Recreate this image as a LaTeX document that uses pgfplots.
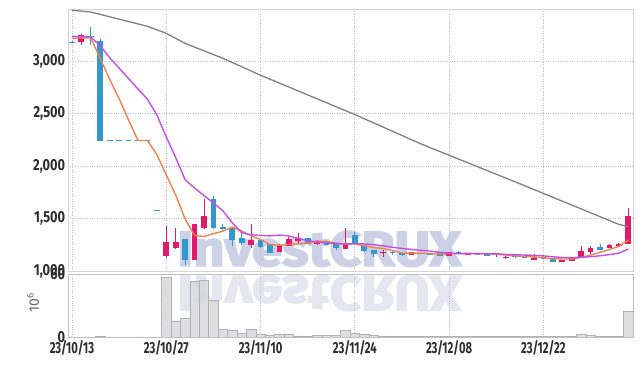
\documentclass[border=0pt]{standalone}
\usepackage{pgfplots}
\pgfplotsset{compat=1.18}
\usepackage{fontspec}
\usepackage{graphicx}
\setmainfont{Fira Sans}
\newfontfamily\wmfont{Fira Sans}[BoldFeatures={FakeBold=3}]
\definecolor{cup}{RGB}{226,26,104}
\definecolor{cdn}{RGB}{51,152,204}
\definecolor{maf}{RGB}{240,130,80}
\definecolor{mam}{RGB}{192,80,230}
\definecolor{mas}{RGB}{128,128,128}
\definecolor{gridc}{RGB}{188,192,218}
\definecolor{axc}{RGB}{210,210,216}
\definecolor{volf}{RGB}{216,216,218}
\definecolor{vold}{RGB}{178,178,182}
\definecolor{wm}{RGB}{204,209,230}
\definecolor{wmr}{RGB}{228,230,240}
\definecolor{tickc}{RGB}{45,45,45}
% \up / \dn {index}{open}{high}{low}{close}
\newcommand{\cndl}[6]{%
  \addplot[#1, line width=0.9pt, forget plot] coordinates {(#2,#5)(#2,#4)};
  \addplot[#1, line width=5.8pt, forget plot] coordinates {(#2,#3)(#2,#6)};}
\newcommand{\up}[5]{\cndl{cup}{#1}{#2}{#3}{#4}{#5}}
\newcommand{\dn}[5]{\cndl{cdn}{#1}{#2}{#3}{#4}{#5}}
\pgfplotsset{
  tly/.style={font=\bfseries\fontsize{16}{16}\selectfont, text=tickc, xscale=0.8},
  tlx/.style={font=\bfseries\fontsize{16}{16}\selectfont, text=tickc, xscale=0.7},
}
\begin{document}
\begin{tikzpicture}
\path[use as bounding box] (0pt,0pt) rectangle (642pt,366pt);
\node[anchor=south west, inner sep=0pt, text=wm] at (177pt,99pt) {\resizebox{284pt}{35pt}{\wmfont\bfseries InvestCRUX}};
\node[anchor=north west, inner sep=0pt, text=wmr] at (177pt,91pt) {\scalebox{1}[-1]{\resizebox{284pt}{35pt}{\wmfont\bfseries InvestCRUX}}};
\node[rotate=90, text=black!60, font=\fontsize{14}{14}\selectfont] at (33pt,63pt) {10\textsuperscript{6}};
\begin{axis}[at={(68pt,95pt)}, anchor=south west, scale only axis, width=565pt, height=262pt,
  xmin=-0.42, xmax=59.5, ymin=1000, ymax=3500,
  xtick={0,10,20,30,40,50}, xticklabels={}, ytick={1000,1500,2000,2500,3000},
  grid=major, grid style={gridc, dotted, line width=0.7pt},
  axis line style={axc}, major tick length=0pt,
  yticklabel style={tly},
  /pgf/number format/1000 sep={,}, /pgf/number format/assume math mode=true]
\dn{0}{3186}{3192}{3176}{3180}
\up{1}{3182}{3258}{3153}{3249}
\dn{2}{3239}{3325}{3153}{3229}
\dn{3}{3191}{3210}{2245}{2245}
\dn{4}{2248}{2248}{2242}{2242}
\dn{5}{2248}{2248}{2242}{2242}
\dn{6}{2248}{2248}{2242}{2242}
\dn{7}{2248}{2248}{2242}{2242}
\dn{8}{2248}{2248}{2242}{2242}
\dn{9}{1579}{1579}{1573}{1573}
\up{10}{1145}{1432}{1126}{1279}
\up{11}{1222}{1413}{1212}{1279}
\dn{12}{1308}{1308}{1059}{1107}
\up{13}{1107}{1451}{1107}{1451}
\up{14}{1413}{1690}{1403}{1528}
\dn{15}{1690}{1719}{1403}{1413}
\dn{16}{1423}{1451}{1394}{1403}
\dn{17}{1413}{1423}{1241}{1298}
\dn{18}{1317}{1365}{1251}{1270}
\up{19}{1251}{1451}{1222}{1298}
\dn{20}{1298}{1298}{1222}{1232}
\dn{21}{1260}{1260}{1174}{1174}
\up{22}{1184}{1260}{1184}{1251}
\up{23}{1241}{1327}{1241}{1308}
\up{24}{1289}{1365}{1270}{1317}
\dn{25}{1317}{1317}{1260}{1260}
\up{26}{1260}{1298}{1251}{1279}
\dn{27}{1279}{1279}{1251}{1251}
\dn{28}{1260}{1260}{1203}{1222}
\up{29}{1212}{1413}{1212}{1270}
\dn{30}{1346}{1375}{1270}{1270}
\dn{31}{1241}{1241}{1184}{1193}
\dn{32}{1203}{1203}{1136}{1164}
\up{33}{1170}{1203}{1136}{1179}
\dn{34}{1179}{1193}{1155}{1170}
\dn{35}{1174}{1184}{1145}{1155}
\up{36}{1155}{1184}{1155}{1184}
\dn{37}{1174}{1174}{1164}{1164}
\dn{38}{1174}{1174}{1155}{1155}
\dn{39}{1174}{1174}{1145}{1145}
\up{40}{1145}{1184}{1145}{1184}
\dn{41}{1184}{1193}{1164}{1174}
\up{42}{1155}{1174}{1155}{1174}
\dn{43}{1164}{1164}{1155}{1155}
\dn{44}{1164}{1164}{1145}{1145}
\up{45}{1150}{1170}{1136}{1158}
\up{46}{1122}{1140}{1117}{1130}
\dn{47}{1140}{1145}{1126}{1132}
\dn{48}{1130}{1136}{1122}{1124}
\up{49}{1107}{1164}{1107}{1126}
\dn{50}{1128}{1136}{1120}{1124}
\dn{51}{1126}{1126}{1088}{1088}
\up{52}{1088}{1107}{1088}{1107}
\up{53}{1098}{1126}{1098}{1126}
\up{54}{1126}{1241}{1126}{1193}
\up{55}{1184}{1241}{1164}{1222}
\dn{56}{1232}{1260}{1203}{1203}
\up{57}{1222}{1260}{1222}{1251}
\up{58}{1241}{1270}{1241}{1260}
\up{59}{1260}{1604}{1260}{1528}
\addplot[maf, line width=1.4pt] coordinates {(0,3220)(1,3225)(2,3223)(3,3027)(4,2830)(5,2643)(6,2442)(7,2245)(8,2245)(9,2111)(10,1918)(11,1725)(12,1497)(13,1338)(14,1329)(15,1356)(16,1380)(17,1419)(18,1382)(19,1336)(20,1300)(21,1254)(22,1245)(23,1253)(24,1260)(25,1268)(26,1285)(27,1283)(28,1266)(29,1256)(30,1258)(31,1241)(32,1224)(33,1215)(34,1195)(35,1172)(36,1170)(37,1170)(38,1166)(39,1161)(40,1166)(41,1164)(42,1166)(43,1166)(44,1166)(45,1161)(46,1152)(47,1144)(48,1138)(49,1134)(50,1127)(51,1119)(52,1114)(53,1114)(54,1130)(55,1152)(56,1178)(57,1205)(58,1235)(59,1295)};
\addplot[mam, line width=1.4pt] coordinates {(0,3239)(1,3236)(2,3232)(3,3150)(4,3035)(5,2936)(6,2836)(7,2737)(8,2640)(9,2490)(10,2280)(11,2083)(12,1871)(13,1792)(14,1720)(15,1650)(16,1575)(17,1460)(18,1365)(19,1345)(20,1340)(21,1335)(22,1343)(23,1335)(24,1310)(25,1290)(26,1277)(27,1268)(28,1262)(29,1258)(30,1260)(31,1258)(32,1251)(33,1241)(34,1226)(35,1215)(36,1206)(37,1197)(38,1190)(39,1178)(40,1169)(41,1167)(42,1168)(43,1166)(44,1164)(45,1164)(46,1158)(47,1155)(48,1152)(49,1150)(50,1144)(51,1136)(52,1129)(53,1126)(54,1131)(55,1137)(56,1145)(57,1156)(58,1170)(59,1210)};
\addplot[mas, line width=1.3pt] coordinates {(0,3488)(2,3471)(8,3335)(10,3268)(12,3172)(16,3030)(20,2868)(30,2493)(37,2213)(47,1851)(58,1445)(59,1423)};
\end{axis}
\begin{axis}[at={(68pt,29pt)}, anchor=south west, scale only axis, width=565pt, height=63pt,
  xmin=-0.42, xmax=59.5, ymin=0, ymax=60, ytick={0,60},
  xtick={0,10,20,30,40,50}, xticklabels={23/10/13,23/10/27,23/11/10,23/11/24,23/12/08,23/12/22},
  grid=major, major x grid style={gridc, dotted, line width=0.7pt},
  major y grid style={black!40, dotted, line width=0.7pt},
  axis line style={black!25}, major tick length=0pt,
  yticklabel style={tly}, xticklabel style={tlx},
  /pgf/number format/assume math mode=true]
\addplot[ybar, bar width=1, bar shift=0pt, fill=volf, draw=vold, fill opacity=0.85, line width=0.6pt] coordinates {(0,0)(1,0)(2,0)(3,0.8)(4,0)(5,0)(6,0)(7,0)(8,0)(9,0)(10,57)(11,15.2)(12,17.8)(13,53.3)(14,54.3)(15,35.2)(16,7.3)(17,6)(18,3.5)(19,7.3)(20,2.6)(21,1.6)(22,2.6)(23,2.6)(24,1)(25,0.6)(26,1.6)(27,1.6)(28,1.6)(29,6)(30,3.5)(31,2.6)(32,1.6)(33,1)(34,0.8)(35,0.6)(36,0.3)(37,0.2)(38,0.2)(39,0.2)(40,0.5)(41,0.5)(42,0.2)(43,0.4)(44,0.4)(45,0.4)(46,0.4)(47,0.2)(48,0.2)(49,0.5)(50,0.2)(51,0.5)(52,0.2)(53,0.2)(54,2.9)(55,1.6)(56,0.6)(57,0.4)(58,0.4)(59,24.4)};
\end{axis}
\end{tikzpicture}
\end{document}
